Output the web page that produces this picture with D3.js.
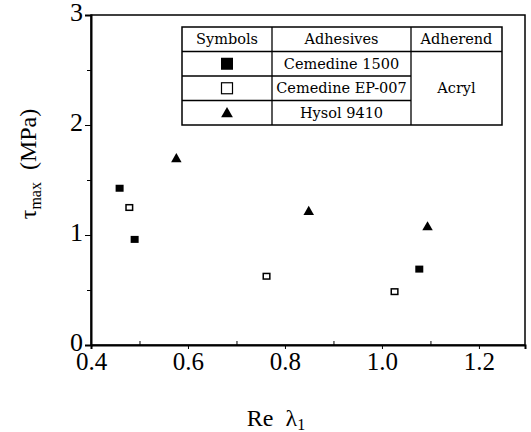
<!DOCTYPE html>
<html>
<head>
<meta charset="utf-8">
<script src="https://cdn.jsdelivr.net/npm/d3@7"></script>
<style>
  body { margin: 0; background: #fff; }
  svg { display: block; }
  text { fill: #000; }
</style>
</head>
<body>
<svg class="canvas" width="531" height="432"></svg>
<script>
// data
const cem1500 = [[0.459, 1.425], [0.490, 0.960], [1.077, 0.690]];
const cemEP007 = [[0.479, 1.250], [0.762, 0.625], [1.026, 0.485]];
const hysol = [[0.576, 1.690], [0.849, 1.210], [1.094, 1.070]];

const xTicks = [0.4, 0.6, 0.8, 1.0, 1.2];
const xMinor = [0.5, 0.7, 0.9, 1.1];
const yTicks = [0, 1, 2, 3];
const yMinor = [0.5, 1.5, 2.5];

const legendRows = ['Cemedine 1500', 'Cemedine EP-007', 'Hysol 9410'];

const svg = d3.select('.canvas');
const plotL = 91, plotR = 525, plotT = 15, plotB = 345;

// scales
const xScale = d3.scaleLinear().domain([0.4, 1.295]).range([plotL, plotR]);
const yScale = d3.scaleLinear().domain([0, 3]).range([plotB, plotT]);

const serif = '"Liberation Serif", "Times New Roman", serif';

// frame
svg.append('rect')
    .attr('x', plotL).attr('y', plotT)
    .attr('width', plotR - plotL).attr('height', plotB - plotT)
    .attr('fill', 'none').attr('stroke', '#000').attr('stroke-width', 1.5);

// axes
const xAxis = d3.axisBottom(xScale).tickValues(xTicks).tickSize(4).tickFormat(d3.format('.1f'));
const gx = svg.append('g').attr('transform', `translate(0, ${plotB})`).call(xAxis);
gx.select('.domain').attr('stroke-width', 2);
gx.selectAll('text')
    .attr('font-family', serif).attr('font-size', 25).attr('dy', '0.62em').attr('y', 9);

svg.append('g').attr('transform', `translate(0, ${plotB})`)
    .call(d3.axisTop(xScale).tickValues(xMinor).tickSize(4).tickFormat(''))
    .select('.domain').remove();

const yAxis = d3.axisLeft(yScale).tickValues(yTicks).tickSize(6).tickFormat(d3.format('d'));
const gy = svg.append('g').attr('transform', `translate(${plotL}, 0)`).call(yAxis);
gy.select('.domain').attr('stroke-width', 2);
gy.selectAll('text')
    .attr('font-family', serif).attr('font-size', 26).attr('x', -8).attr('dy', '0.22em');

svg.append('g').attr('transform', `translate(${plotL}, 0)`)
    .call(d3.axisLeft(yScale).tickValues(yMinor).tickSize(4).tickFormat(''))
    .select('.domain').remove();

// axis titles
const xt = svg.append('text')
    .attr('x', 276).attr('y', 426)
    .attr('text-anchor', 'middle')
    .attr('font-family', serif).attr('font-size', 24);
xt.append('tspan').text('Re\u00a0\u00a0λ');
xt.append('tspan').attr('font-size', 16).attr('dy', 4).text('1');

const yt = svg.append('text')
    .attr('transform', 'translate(36, 164) rotate(-90)')
    .attr('text-anchor', 'middle')
    .attr('font-family', serif).attr('font-size', 24);
yt.append('tspan').text('τ');
yt.append('tspan').attr('font-size', 16).attr('dy', 5).text('max');
yt.append('tspan').attr('dy', -5).text('\u00a0\u00a0(MPa)');

// data marks
svg.selectAll('.c1500').data(cem1500).enter().append('rect')
    .attr('class', 'c1500')
    .attr('x', (d) => xScale(d[0]) - 4).attr('y', (d) => yScale(d[1]) - 3.5)
    .attr('width', 8).attr('height', 7).attr('fill', '#000');

svg.selectAll('.ep007').data(cemEP007).enter().append('rect')
    .attr('class', 'ep007')
    .attr('x', (d) => xScale(d[0]) - 3.3).attr('y', (d) => yScale(d[1]) - 2.8)
    .attr('width', 6.6).attr('height', 5.6)
    .attr('fill', '#fff').attr('stroke', '#000').attr('stroke-width', 1.5);

const tri = d3.symbol().type(d3.symbolTriangle).size(48);
svg.selectAll('.hysol').data(hysol).enter().append('path')
    .attr('class', 'hysol')
    .attr('transform', (d) => `translate(${xScale(d[0])}, ${yScale(d[1])})`)
    .attr('d', tri).attr('fill', '#000');

// legend table
const lg = svg.append('g').attr('font-family', '"DejaVu Serif", serif').attr('font-size', 14.5);
const tx0 = 182, tx1 = 272, tx2 = 411, tx3 = 502;
const rowY = [27, 51.5, 76, 100.5, 125];

lg.append('rect').attr('x', tx0).attr('y', rowY[0])
    .attr('width', tx3 - tx0).attr('height', rowY[4] - rowY[0])
    .attr('fill', '#fff').attr('stroke', '#000').attr('stroke-width', 1.5);
[tx1, tx2].forEach((x) => lg.append('line')
    .attr('x1', x).attr('x2', x).attr('y1', rowY[0]).attr('y2', rowY[4])
    .attr('stroke', '#000').attr('stroke-width', 1.3));
lg.append('line').attr('x1', tx0).attr('x2', tx3).attr('y1', rowY[1]).attr('y2', rowY[1])
    .attr('stroke', '#000').attr('stroke-width', 1.3);
[rowY[2], rowY[3]].forEach((y) => lg.append('line')
    .attr('x1', tx0).attr('x2', tx2).attr('y1', y).attr('y2', y)
    .attr('stroke', '#000').attr('stroke-width', 1.3));

const header = [['Symbols', (tx0 + tx1) / 2], ['Adhesives', (tx1 + tx2) / 2], ['Adherend', (tx2 + tx3) / 2]];
header.forEach(([t, x]) => lg.append('text')
    .attr('x', x).attr('y', (rowY[0] + rowY[1]) / 2).attr('dy', '0.36em')
    .attr('text-anchor', 'middle').text(t));

legendRows.forEach((t, i) => lg.append('text')
    .attr('x', (tx1 + tx2) / 2).attr('y', (rowY[i + 1] + rowY[i + 2]) / 2).attr('dy', '0.36em')
    .attr('text-anchor', 'middle').text(t));

lg.append('text').attr('x', (tx2 + tx3) / 2).attr('y', (rowY[1] + rowY[4]) / 2).attr('dy', '0.36em')
    .attr('text-anchor', 'middle').text('Acryl');

const sx = (tx0 + tx1) / 2;
lg.append('rect').attr('x', sx - 6).attr('y', (rowY[1] + rowY[2]) / 2 - 6)
    .attr('width', 12).attr('height', 12).attr('fill', '#000');
lg.append('rect').attr('x', sx - 5.5).attr('y', (rowY[2] + rowY[3]) / 2 - 5.5)
    .attr('width', 11).attr('height', 11).attr('fill', '#fff').attr('stroke', '#000').attr('stroke-width', 1.2);
lg.append('path').attr('transform', `translate(${sx}, ${(rowY[3] + rowY[4]) / 2 + 1})`)
    .attr('d', d3.symbol().type(d3.symbolTriangle).size(60)).attr('fill', '#000');
</script>
</body>
</html>
